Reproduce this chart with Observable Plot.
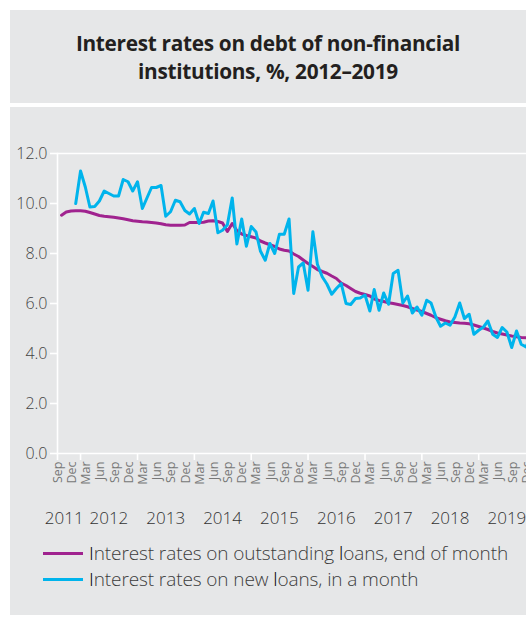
<!DOCTYPE html>
<html>
<head>
<meta charset="utf-8">
<script src="https://cdn.jsdelivr.net/npm/d3@7"></script>
<script src="https://cdn.jsdelivr.net/npm/@observablehq/plot@0.6"></script>
<style>
  html, body { margin: 0; padding: 0; background: #fff; }
  body { width: 526px; height: 620px; overflow: hidden; position: relative; font-family: "Open Sans", "Noto Sans", sans-serif; }
  .panel { position: absolute; left: 10px; width: 516px; background: #e6e7e8; }
  #head { top: 10px; height: 93px; display: flex; align-items: center; justify-content: center; }
  #head h1 { margin: 0; font-size: 20.8px; line-height: 28px; font-weight: 700; letter-spacing: -0.3px; text-align: center; color: #231f20; }
  #body { top: 107px; height: 508px; }
  #chart { position: absolute; left: 0; top: 107px; }
  .legend-row { position: absolute; left: 43px; height: 24px; display: flex; align-items: center; font-size: 19px; font-weight: 300; color: #3c3c3c; white-space: nowrap; letter-spacing: -0.1px; }
  .legend-row .swatch { display: inline-block; width: 40px; height: 3px; margin-right: 6px; }
  .legend-row .k { color: #000; }
</style>
</head>
<body>
<div class="panel" id="head"><h1>Interest rates on debt of non-financial<br>institutions, %, 2012–2019</h1></div>
<div class="panel" id="body"></div>
<div id="chart"></div>
<div class="legend-row" id="leg1" style="top:541px"><span class="swatch" style="background:#a0238f"></span><span><span class="k">I</span>nterest rates on outstanding <span class="k">l</span>oans, end of month</span></div>
<div class="legend-row" id="leg2" style="top:567px"><span class="swatch" style="background:#00b4ec"></span><span><span class="k">I</span>nterest rates on new <span class="k">l</span>oans, in a month</span></div>
<script>
// Monthly observations, September 2011 – December 2019
const firstMonth = Date.UTC(2011, 8, 1);
const months = d3.utcMonth.range(firstMonth, Date.UTC(2020, 0, 1));

// Interest rates on outstanding loans, end of month, %
const outstandingRates = [
  9.53, 9.66, 9.70, 9.71,                                                   // 2011 Sep–Dec
  9.71, 9.69, 9.64, 9.58, 9.52, 9.49, 9.47, 9.45, 9.42, 9.39, 9.35, 9.31,   // 2012
  9.29, 9.27, 9.26, 9.24, 9.22, 9.19, 9.15, 9.13, 9.13, 9.13, 9.14, 9.24,   // 2013
  9.24, 9.24, 9.25, 9.30, 9.31, 9.28, 9.22, 8.88, 9.20, 8.92, 8.78, 8.72,   // 2014
  8.67, 8.62, 8.50, 8.42, 8.35, 8.28, 8.18, 8.13, 8.10, 7.98, 7.88, 7.74,   // 2015
  7.60, 7.48, 7.36, 7.28, 7.21, 7.10, 7.00, 6.82, 6.72, 6.60, 6.48, 6.41,   // 2016
  6.36, 6.30, 6.18, 6.12, 6.08, 6.03, 6.00, 5.96, 5.92, 5.87, 5.80, 5.74,   // 2017
  5.68, 5.60, 5.53, 5.43, 5.37, 5.31, 5.26, 5.24, 5.22, 5.21, 5.19, 5.14,   // 2018
  5.08, 5.02, 4.96, 4.88, 4.82, 4.78, 4.74, 4.70, 4.67, 4.64, 4.63, 4.62    // 2019
];

// Interest rates on new loans, in a month, %
const newLoanRates = [
  null, null, null, 10.00,                                                  // 2011 Sep–Dec
  11.30, 10.65, 9.86, 9.88, 10.10, 10.50, 10.40, 10.30, 10.30, 10.96, 10.87, 10.50, // 2012
  10.87, 9.80, 10.20, 10.64, 10.64, 10.72, 9.49, 9.67, 10.13, 10.07, 9.72, 9.58,    // 2013
  9.80, 9.20, 9.65, 9.60, 10.10, 8.83, 8.93, 9.15, 10.22, 8.38, 9.38, 8.29,         // 2014
  9.08, 8.86, 8.10, 7.73, 8.40, 8.00, 8.77, 8.77, 9.38, 6.40, 7.46, 7.62,           // 2015
  6.53, 8.87, 7.57, 7.07, 6.78, 6.37, 6.60, 6.80, 6.00, 5.96, 6.20, 6.22,           // 2016
  6.34, 5.70, 6.56, 5.73, 6.42, 5.97, 7.20, 7.33, 6.02, 6.30, 5.62, 5.86,           // 2017
  5.53, 6.13, 6.02, 5.46, 5.09, 5.22, 5.13, 5.46, 6.02, 5.40, 5.57, 4.77,           // 2018
  4.93, 5.06, 5.30, 4.77, 4.64, 5.04, 4.86, 4.24, 4.90, 4.37, 4.26, 4.70            // 2019
];

// Axis labelling
const yTicks = [0, 2, 4, 6, 8, 10, 12];
const quarterMonths = ["Mar", "Jun", "Sep", "Dec"];
const years = ["2011", "2012", "2013", "2014", "2015", "2016", "2017", "2018", "2019"];

const seriesColors = {outstanding: "#a0238f", fresh: "#00b4ec"};

// visible time window of the chart
const xDomain = [new Date(Date.UTC(2011, 7, 6)), new Date(Date.UTC(2019, 10, 4))];

const rows = months.map((date, i) => ({date, outstanding: outstandingRates[i], fresh: newLoanRates[i]}));
const monthFmt = d3.utcFormat("%b");
const monthLabels = months.filter(d => quarterMonths.includes(monthFmt(d)));
const yearTicks = [xDomain[0], ...years.slice(1).map(y => new Date(Date.UTC(+y, 0, 1)))];
const yearLabels = years.map(y => ({
  year: y,
  at: y === "2011" ? new Date(Date.UTC(2011, 8, 18)) : new Date(Date.UTC(+y, 6, 1))
}));

const chart = Plot.plot({
  width: 526,
  height: 426,
  marginLeft: 57,
  marginRight: 0,
  marginTop: 46,
  marginBottom: 80,
  style: {background: "transparent", fontFamily: "'Open Sans', 'Noto Sans', sans-serif", overflow: "visible"},
  x: {type: "utc", domain: xDomain, axis: null},
  y: {domain: [0, 12], axis: null},
  marks: [
    Plot.ruleY([12], {stroke: "white", strokeWidth: 1.6}),
    Plot.ruleY([0], {stroke: "white", strokeWidth: 1.6}),
    Plot.frame({anchor: "left", stroke: "white", strokeWidth: 1.6}),
    Plot.axisY(yTicks, {
      tickSize: 7, tickPadding: 3, tickFormat: d3.format(".1f"),
      stroke: "white", strokeWidth: 1.6, fill: "#444",
      fontSize: 16, fontWeight: 300
    }),
    Plot.axisX(yearTicks, {tickSize: 7, tickFormat: () => "", stroke: "white", strokeWidth: 1.6}),
    Plot.text(monthLabels, {
      x: d => d, text: d => monthFmt(d), frameAnchor: "bottom", dy: 8,
      rotate: -90, textAnchor: "end", fontSize: 12.5, fill: "#777"
    }),
    Plot.text(yearLabels, {
      x: "at", text: "year", frameAnchor: "bottom", dy: 70,
      fontSize: 17, fontWeight: 300, fill: "#333"
    }),
    Plot.lineY(rows, {x: "date", y: "outstanding", stroke: seriesColors.outstanding, strokeWidth: 3, clip: true}),
    Plot.lineY(rows, {x: "date", y: "fresh", stroke: seriesColors.fresh, strokeWidth: 3, clip: true})
  ]
});
document.getElementById("chart").append(chart);
</script>
</body>
</html>
